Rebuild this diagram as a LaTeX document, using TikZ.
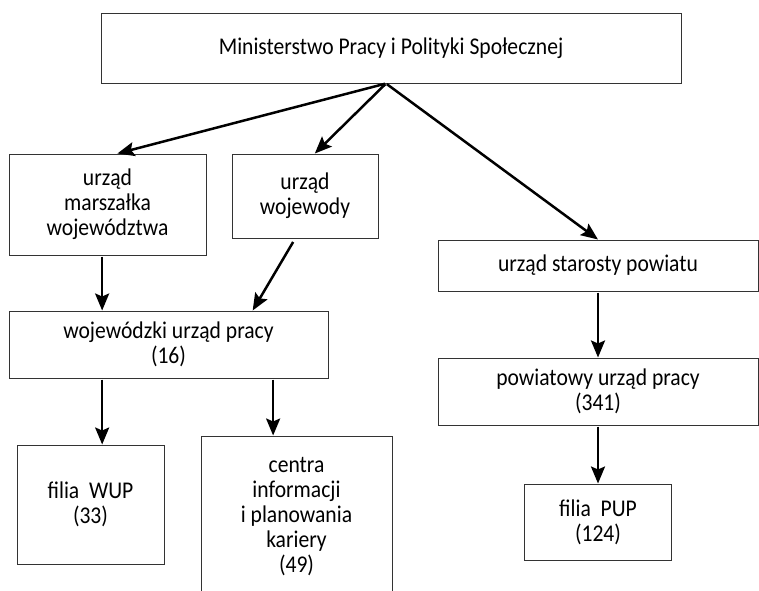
\documentclass[tikz,border=0pt]{standalone}
\usepackage{fontspec}
\setmainfont[FakeStretch=0.9]{Carlito}
\usetikzlibrary{arrows.meta}

\begin{document}
\begin{tikzpicture}[x=1pt,y=-1pt,->,>={Stealth[length=17pt,width=14pt,inset=3pt]},
		line width=2.5pt,shorten <=1pt,
		main node/.style={rectangle,draw=black!80,line width=1pt,inner sep=0pt,align=center,
			font=\fontsize{24}{25}\selectfont}]
		\useasboundingbox (0,0) rectangle (759,590);
		\clip (0,0) rectangle (759,590);

		\node[main node,minimum width=580pt,minimum height=70pt] (1) at (391,48) {Ministerstwo Pracy i Polityki Społecznej};
		\node[main node,minimum width=197pt,minimum height=101pt] (2) at (107.5,204.5) {urząd\\marszałka\\województwa};
		\node[main node,minimum width=146pt,minimum height=84pt] (3) at (305,196) {urząd\\wojewody};
		\node[main node,minimum width=320pt,minimum height=51pt] (4) at (598,265.5) {urząd starosty powiatu};
		\node[main node,minimum width=319pt,minimum height=67pt] (5) at (168.5,344.5) {wojewódzki urząd pracy\\(16)};
		\node[main node,minimum width=320pt,minimum height=67pt] (6) at (598,391.5) {powiatowy urząd pracy\\(341)};
		\node[main node,minimum width=147pt,minimum height=119pt] (7) at (90.5,504.5) {filia\ \ WUP\\(33)};
		\node[main node,minimum width=191pt,minimum height=162pt] (8) at (296.5,517) {centra\\informacji\\i planowania\\kariery\\(49)};
		\node[main node,minimum width=147pt,minimum height=76pt] (9) at (598,522) {filia\ \ PUP\\(124)};

		\draw (1.-98) -- (2.79);
		\draw (1.-98) -- (3.77);
		\draw (1.-98) -- (4.north);
		\draw (2.-96) -- (2.-96 |- 5.north);
		\draw[shorten <=4pt] (3.-103) -- (5.22);
		\draw (7.79 |- 5.south) -- (7.79);
		\draw (8.106 |- 5.south) -- (8.106);
		\draw (4) -- (6);
		\draw (6) -- (9);
	\end{tikzpicture}
\end{document}
